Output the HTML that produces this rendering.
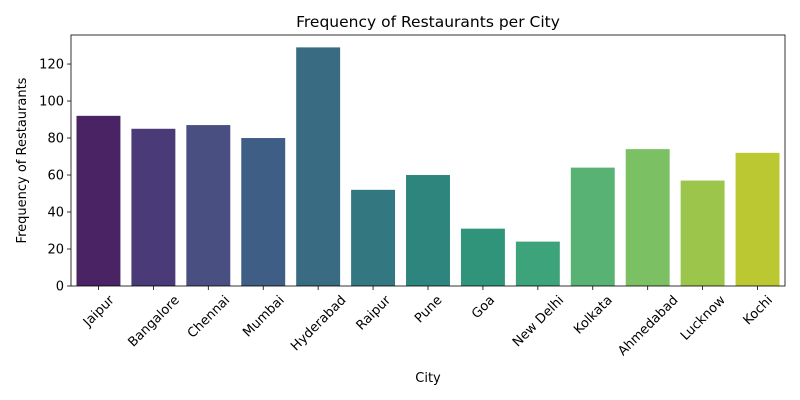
<!DOCTYPE html>
<html><head><meta charset="utf-8"><style>
body{margin:0;background:#fff;}
svg{display:block;font-family:"DejaVu Sans","Liberation Sans",sans-serif;}
</style></head><body>
<svg id="chart" width="800" height="400"></svg>
<script>
const categories=["Jaipur","Bangalore","Chennai","Mumbai","Hyderabad","Raipur","Pune","Goa","New Delhi","Kolkata","Ahmedabad","Lucknow","Kochi"];
const counts=[92,85,87,80,129,52,60,31,24,64,74,57,72];
const yTicks=[0,20,40,60,80,100,120];
const colors=["#4a2365","#4a3a77","#494f80","#3f5e86","#396b82","#337781","#2e857e","#2f947a","#3da37a","#58b273","#7bc063","#9bc64b","#bcc832"];
const svg=document.getElementById('chart');
const NS="http://www.w3.org/2000/svg";
const L=71,R=785,T=35,B=286,yMax=135.7;
const y=v=>B-(v/yMax)*(B-T);
const step=(R-L)/categories.length;
const x=i=>L+step*(i+0.5);
function mk(tag,attrs,txt){const e=document.createElementNS(NS,tag);for(const k in attrs)e.setAttribute(k,attrs[k]);if(txt!==undefined)e.textContent=txt;svg.appendChild(e);return e;}
categories.forEach((c,i)=>{
  const b=mk('rect',{x:x(i)-step*0.4,y:y(counts[i]),width:step*0.8,height:B-y(counts[i]),fill:colors[i]});
  
  
  mk('line',{x1:x(i),x2:x(i),y1:B,y2:B+4,stroke:'#000','stroke-width':0.8});
  const t=mk('text',{x:x(i),y:0,'font-size':13,'text-anchor':'middle'},c);
  const w=t.getComputedTextLength();
  const cy=B+7+(w+13)*0.707/2;
  t.setAttribute('y',cy+4.5);
  t.setAttribute('transform',`rotate(-45 ${x(i)} ${cy})`);
  
  
});
yTicks.forEach(v=>{
  mk('line',{x1:L-4,x2:L,y1:y(v),y2:y(v),stroke:'#000','stroke-width':0.8});
  const t=mk('text',{x:L-7,y:y(v)+4.5,'font-size':13,'text-anchor':'end'},v);
  
  
});
const f=mk('rect',{x:L,y:T,width:R-L,height:B-T,fill:'none',stroke:'#000','stroke-width':0.8});


const ti=mk('text',{x:(L+R)/2,y:27,'font-size':15.5,'text-anchor':'middle'},'Frequency of Restaurants per City');


const xt=mk('text',{x:(L+R)/2,y:382,'font-size':13,'text-anchor':'middle'},'City');


const yt=mk('text',{x:26,y:(T+B)/2,'font-size':13,'text-anchor':'middle',transform:`rotate(-90 26 ${(T+B)/2})`},'Frequency of Restaurants');


</script>
</body></html>
